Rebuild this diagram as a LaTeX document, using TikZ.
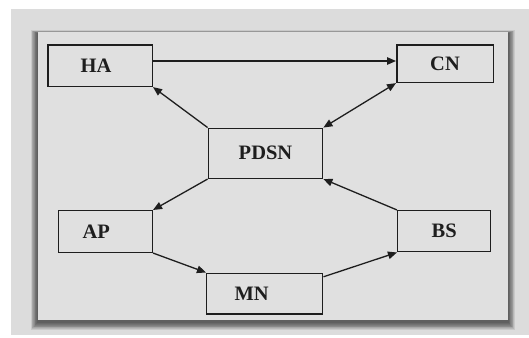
\documentclass[tikz,border=0pt]{standalone}
\usepackage{fontspec}
\setmainfont{Liberation Serif}
\usetikzlibrary{arrows.meta}
\definecolor{outergray}{HTML}{DCDCDC}
\definecolor{panelgray}{HTML}{E0E0E0}
\definecolor{ink}{HTML}{1E1E1E}
\begin{document}
\begin{tikzpicture}[x=1pt,y=-1pt,
  box/.style={draw=ink,line width=1.5pt,fill=panelgray,inner sep=0pt,
    font=\fontsize{20.5}{22}\selectfont\bfseries,text=ink},
  link/.style={draw=ink,line width=1.3pt,-{Triangle[length=9pt,width=7.5pt]}},
  duplex/.style={draw=ink,line width=1.3pt,{Triangle[length=9pt,width=7.5pt]}-{Triangle[length=9pt,width=7.5pt]}}]
  % page and outer backdrop
  \fill[white] (0,0) rectangle (529,337);
  \useasboundingbox (0,0) rectangle (529,337);
  \fill[outergray] (11,9) rectangle (529,335);
  % soft drop shadow under the panel
  \foreach \s in {1,...,9}{
    \fill[black,opacity=0.085] (37.5-\s*0.75,32-\s*0.35+1.5) rectangle (508+\s*0.75,320+\s*0.8+2.5);
  }
  % panel
  \fill[panelgray] (37.5,32) rectangle (508,320);
  % nodes
  \node[box,minimum width=104.5pt,minimum height=41.3pt] (ha) at (100,65.7) {HA\hspace*{8pt}};
  \node[box,minimum width=96.5pt,minimum height=37.3pt] (cn) at (445,63.7) {CN};
  \node[box,minimum width=114.3pt,minimum height=50pt] (pdsn) at (265.5,153.3) {PDSN};
  \node[box,minimum width=94pt,minimum height=41.6pt] (ap) at (105.3,231.5) {AP\hspace*{18pt}};
  \node[box,minimum width=93pt,minimum height=41pt] (bs) at (444.2,231.2) {BS};
  \node[box,minimum width=116pt,minimum height=40.7pt] (mn) at (264.7,293.6) {MN\hspace*{26pt}};
  % connectors
  \draw[link] (ha.east |- 0,61) -- (cn.west |- 0,61);
  \draw[link] (pdsn.north west) -- (ha.south east);
  \draw[duplex] (cn.south west) -- (pdsn.north east);
  \draw[link] (pdsn.south west) -- (ap.north east);
  \draw[link] (bs.north west) -- (pdsn.south east);
  \draw[link] (ap.south east) -- (mn.north west);
  \draw[link] ([yshift=-4.3pt]mn.north east) -- (bs.south west);
\end{tikzpicture}
\end{document}
